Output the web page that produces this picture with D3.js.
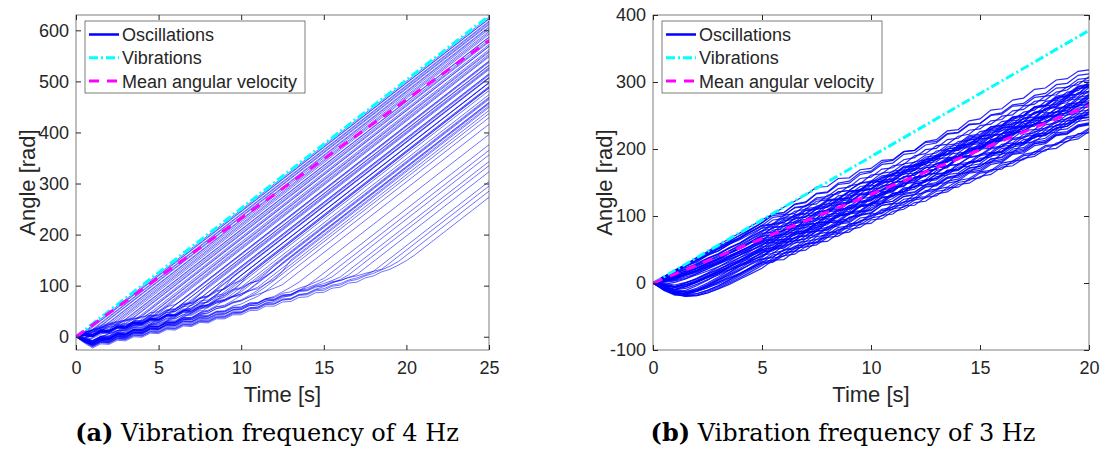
<!DOCTYPE html>
<html>
<head>
<meta charset="utf-8">
<script src="https://cdnjs.cloudflare.com/ajax/libs/d3/7.8.5/d3.min.js"></script>
<style>
  body { margin: 0; background: #fff; }
  svg text { font-family: "Liberation Sans", Arial, sans-serif; fill: #262626; }
  .tick text { font-size: 18px; }
  .caption { font-family: "DejaVu Serif", serif; font-size: 24px; fill: #000; }
</style>
</head>
<body>
<svg id="chart" width="1103" height="452"></svg>
<script>

// sample spacing of the angle traces, seconds
var dt = 0.5;

var legendLabels = ["Oscillations", "Vibrations", "Mean angular velocity"];
var captionTags = ["(a)", "(b)"];
var captionTexts = [" Vibration frequency of 4 Hz", " Vibration frequency of 3 Hz"];

// ---- panel (a), 4 Hz, 0..25 s
var leftTicksX = [0, 5, 10, 15, 20, 25];
var leftTicksY = [0, 100, 200, 300, 400, 500, 600];
var leftVib = [[0, 0], [25, 628.3]];
var leftMean = [[0, 0], [25, 580]];

// angle every 0.5 s until the trace locks onto the vibration
var leftPre = [
  [0,10], [0,6], [0,2],
  [0,9,20], [0,4,13], [0,-3,8],
  [0,8,14,22], [0,3,9,16], [0,-4,2,11],
  [0,9,13,21,27], [0,5,8,15,20], [0,-6,-2,8,14],
  [0,7,14,18,26,30], [0,2,10,12,19,22], [0,-8,-3,5,11,17],
  [0,8,12,19,24,29,33], [0,3,6,14,17,23,26], [0,-7,-10,-1,6,12,19],
  [0,6,13,17,24,28,33,37], [0,-2,4,10,13,20,24,29], [0,-9,-14,-6,1,8,14,22],
  [0,8,11,17,23,25,32,36,40], [0,-3,2,9,12,18,23,26,31], [0,-10,-16,-9,-2,4,10,18,25],
  [0,5,10,17,20,26,31,34,39,42], [0,-5,-8,0,6,10,17,22,28,35],
  [0,7,4,13,12,21,19,29,28,38,45], [0,-8,-12,-4,-5,5,4,14,13,24,37],
  [0,6,3,12,11,20,18,27,26,35,38,49], [0,-4,-9,-1,-3,6,5,14,13,23,28,41],
  [0,4,2,11,9,18,17,26,25,34,33,44,54], [0,-9,-15,-7,-9,0,-1,9,8,18,19,31,45],
  [0,5,3,12,10,19,18,27,26,35,34,43,49,60], [0,-6,-11,-3,-5,4,3,12,11,20,20,30,38,50],
  [0,2,0,9,8,17,16,25,24,33,32,41,42,52,62], [0,-10,-18,-10,-12,-3,-4,6,5,15,15,25,29,41,55],
  [0,4,2,11,10,19,17,26,25,34,33,42,41,50,57,66], [0,-7,-13,-5,-6,3,2,11,10,19,18,27,28,38,47,58],
  [0,6,4,12,11,20,19,28,26,35,34,43,42,51,53,61,70], [0,-3,-8,0,-1,8,6,15,14,23,22,31,31,40,44,53,63],
  [0,-9,-16,-8,-9,0,-1,8,7,16,15,24,25,34,37,47,58,72],
  [0,5,3,12,11,20,18,27,26,35,34,43,42,51,50,59,62,71,80],
  [0,-5,-11,-3,-4,5,4,13,12,21,20,29,28,37,38,47,52,61,72],
  [0,2,0,9,8,17,16,25,23,32,31,40,39,48,47,56,59,66,72,79],
  [0,7,5,13,12,21,20,29,27,36,35,44,43,52,51,60,62,70,73,80,88],
  [0,-6,-12,-4,-5,4,3,12,11,20,19,28,27,36,37,46,50,58,62,71,81],
  [0,3,1,10,9,18,16,25,24,33,32,41,40,49,48,57,60,68,71,78,84,92],
  [0,6,4,13,11,20,19,28,27,36,34,43,42,51,50,59,61,69,72,79,84,90,97],
  [0,-8,-15,-7,-8,1,0,9,8,17,16,25,24,33,34,43,47,55,59,67,72,81,91],
  [0,6,4,14,14,24,25,35,37,47,49,59,63,73,85],
  [0,-4,-8,1,2,12,13,23,25,35,37,47,50,60,68,83,100],
  [0,5,3,12,11,21,21,31,31,41,42,52,53,63,65,75,80,94,110],
  [0,-6,-11,-2,-2,8,8,18,19,29,30,40,42,52,54,64,68,80,97,118],
  [0,2,0,9,9,19,19,29,30,40,41,51,53,63,65,75,78,88,93,105,120],
  [0,-8,-14,-5,-5,5,5,15,16,26,27,37,38,48,50,60,63,73,77,89,105,125],
  [0,4,2,11,11,21,21,31,32,42,43,53,55,65,67,77,80,90,94,104,110,122,135],
  [0,-3,-8,1,1,11,11,21,22,32,33,43,44,54,56,66,68,78,81,91,94,104,110,123,140],
  [0,3,1,10,10,19,19,28,29,38,39,48,50,59,61,70,72,81,84,93,96,105,109,119,130,145],
  [0,-7,-13,-4,-4,5,5,14,15,24,25,34,35,44,46,55,57,66,69,78,81,90,94,104,112,128,150],
  [0,-4,-10,-2,-3,6,5,14,12,21,20,29,28,37,36,45,46,55,58,66,70,78,87,98],
  [0,-9,-17,-9,-10,-1,-2,7,6,15,14,23,22,31,30,39,40,49,51,60,64,72,79,90,102],
  [0,3,1,9,8,16,14,22,21,29,28,36,35,43,42,51,50,59,60,68,71,78,83,89,95,102],
  [0,-6,-13,-5,-6,2,1,9,8,16,15,23,22,30,29,37,36,44,45,53,55,63,66,74,79,88,97,107],
  [0,-10,-19,-11,-12,-4,-5,3,2,10,9,17,16,24,23,31,30,38,39,47,48,56,58,66,69,77,81,90,100,112],
  [0,-3,-9,-1,-2,6,5,13,12,20,19,27,26,34,33,41,40,48,49,57,58,66,67,75,77,85,88,95,100,107,114],
  [0,-7,-14,-6,-7,1,0,8,7,15,14,22,21,29,28,36,35,43,44,52,53,61,62,70,72,80,83,91,96,102,109,117],
  [0,2,0,7,6,13,12,19,18,25,24,31,30,37,36,43,42,50,50,58,58,66,66,74,74,82,83,91,93,100,104,110,117],
  [0,-11,-20,-12,-13,-5,-6,2,1,9,8,16,15,23,22,30,29,37,37,45,46,54,55,63,64,72,74,82,85,93,98,105,112,121],
  [0,-5,-12,-4,-5,3,2,10,9,17,16,24,23,31,30,38,37,45,45,53,53,61,62,70,71,79,80,88,90,97,100,106,110,116,122],
  [0,-8,-16,-8,-9,-1,-2,6,5,13,12,20,19,27,26,34,33,41,41,49,49,57,58,66,66,74,75,83,84,92,94,101,104,111,115,121,128],
  [0,-2,-7,1,0,8,7,15,14,21,20,27,26,34,33,41,40,48,48,56,56,64,65,73,73,81,82,90,91,99,100,108,110,116,119,124,128,132],
  [0,-9,-18,-10,-11,-3,-4,4,3,11,10,18,17,25,24,32,31,39,39,47,47,55,56,64,64,72,73,81,82,90,91,99,101,109,112,119,124,131,138,147],
  [0,-12,-22,-14,-15,-7,-8,0,-1,7,6,14,13,21,20,28,27,35,35,43,43,51,52,60,60,68,69,77,78,86,87,95,97,105,107,115,119,127,132,140,149,160]
];

// angle of each trace at t = 25 s
var leftEnd = [
  626, 622, 618, 623, 616, 611, 613, 607, 602, 605, 598, 592,
  595, 587, 582, 586, 579, 572, 577, 569, 562, 568, 559, 553,
  557, 550, 548, 540, 539, 531, 532, 523, 525, 515, 514, 507,
  506, 498, 497, 490, 487, 482, 474, 469, 465, 458, 456, 449, 443,
  537, 527, 512, 508, 497, 489, 487, 467, 459, 452,
  437, 429, 416, 396, 376, 365, 356, 343, 335, 323, 304, 295, 285, 273
];

// ---- panel (b), 3 Hz, 0..20 s
var rightTicksX = [0, 5, 10, 15, 20];
var rightTicksY = [-100, 0, 100, 200, 300, 400];
var rightVib = [[0, 0], [20, 377]];
var rightMean = [[0, 0], [20, 265]];

// angle every 0.5 s
var rightRuns = [
  [0,10,17,27,34,44,51,61,68,80,90,103,105,117,120,133,135,147,149,162,165,177,179,192,194,206,209,222,224,236,238,251,254,266,268,280,283,296,298,310,312],
  [0,8,15,25,31,41,48,58,66,77,86,88,101,104,116,118,131,133,145,148,161,163,175,177,190,193,205,207,219,222,235,237,249,251,264,267,279,281,293,296,308],
  [0,6,14,21,29,37,44,53,60,71,82,94,96,107,110,122,124,136,138,149,152,164,166,178,180,191,194,206,208,220,222,233,236,248,250,262,264,275,278,290,292],
  [0,9,14,23,28,37,43,52,59,69,78,81,93,95,108,110,122,125,137,139,152,155,167,169,181,184,197,199,211,213,226,229,241,243,255,258,271,273,285,287,300],
  [0,5,12,18,26,33,41,48,57,66,76,87,90,102,104,115,118,130,132,144,146,157,160,172,174,185,188,200,202,214,216,227,230,242,244,255,258,270,272,284,286],
  [0,7,11,19,24,33,39,48,55,65,74,76,88,91,103,105,118,120,132,139,146,158,161,174,176,188,190,203,206,218,220,233,235,247,250,263,265,277,279,292,295],
  [0,4,9,15,21,29,36,45,53,62,72,83,85,97,99,110,113,124,126,138,140,151,153,165,168,179,181,192,194,206,208,219,222,233,235,247,249,260,262,274,276],
  [0,2,6,13,19,28,35,44,52,61,70,72,85,88,100,102,115,117,130,133,145,147,160,162,174,177,190,192,205,207,219,222,235,237,250,252,264,267,280,282,295],
  [0,6,10,17,22,30,36,44,51,60,68,79,81,92,95,105,108,119,121,132,134,145,148,158,161,172,174,185,187,198,201,211,214,225,227,238,240,251,254,264,267],
  [0,-2,1,6,14,21,30,38,47,56,66,69,80,82,94,97,108,110,122,124,136,139,150,152,164,167,178,180,192,194,206,209,220,222,234,237,248,250,262,264,276],
  [0,5,8,14,19,26,33,40,48,55,64,76,78,89,91,103,106,117,119,131,133,144,147,159,161,172,174,186,189,200,202,214,216,227,230,242,244,255,257,269,272],
  [0,-5,-6,0,7,15,24,33,42,52,62,64,76,79,91,93,106,108,120,123,135,137,150,152,164,167,179,181,194,196,208,211,223,225,238,240,252,255,267,269,282],
  [0,3,8,12,18,24,31,38,45,52,60,70,73,84,86,96,99,110,112,122,125,135,138,149,151,161,164,175,177,187,190,200,203,214,216,226,229,240,242,252,255],
  [0,-7,-10,-6,2,10,19,29,38,48,58,61,72,74,86,89,100,107,114,126,128,139,142,154,156,167,170,182,184,195,198,210,212,223,226,238,240,251,254,266,268],
  [0,2,4,9,14,21,28,35,42,49,56,67,69,80,83,94,96,108,110,121,123,134,137,148,150,162,164,175,177,188,191,202,204,216,218,229,231,242,245,256,258],
  [0,-9,-14,-11,-4,4,14,24,34,44,54,56,69,71,83,86,99,101,113,115,128,131,143,145,158,160,172,175,188,190,202,204,217,220,232,234,247,249,261,264,277],
  [0,1,3,7,12,18,24,31,38,45,52,62,65,75,78,89,91,101,104,114,117,128,130,140,143,153,156,167,169,179,182,192,195,206,208,218,221,231,234,245,247],
  [0,-8,-13,-13,-8,0,9,19,29,40,50,53,64,66,78,81,92,94,106,108,120,123,134,136,148,151,162,164,176,178,190,193,204,206,218,221,232,234,246,248,260],
  [0,-1,-3,1,6,13,20,27,34,41,48,60,62,73,75,86,89,100,102,114,116,127,129,140,143,154,156,168,170,181,183,194,197,208,210,222,224,235,237,248,251],
  [0,-10,-17,-15,-10,-2,7,16,26,36,46,48,60,63,75,77,90,92,104,107,119,121,134,136,148,151,163,165,178,180,192,195,207,209,222,224,236,239,251,253,266],
  [0,-4,-6,-2,4,11,17,24,31,37,44,54,57,68,70,80,83,93,96,107,109,119,122,132,135,146,148,158,161,171,174,185,187,197,200,210,213,224,226,236,239],
  [0,-9,-15,-17,-12,-5,3,13,22,32,42,44,56,59,70,72,84,87,98,100,112,119,126,137,140,152,154,165,168,180,182,193,196,208,210,221,224,236,238,249,252],
  [0,-3,-7,-5,1,8,15,22,28,34,40,51,53,63,66,77,79,90,92,102,105,116,119,129,132,143,145,156,158,168,171,182,184,195,198,208,211,222,224,234,237],
  [0,-7,-14,-16,-13,-7,1,10,19,29,38,50,52,63,66,78,80,91,94,106,108,119,122,134,136,147,150,162,164,175,178,190,192,203,206,218,220,231,234,246,248],
  [0,-2,-5,-3,2,8,14,20,26,31,36,39,49,51,62,65,75,78,88,90,101,104,114,117,127,129,140,143,153,156,166,168,179,182,192,195,205,207,218,221,231],
  [0,-6,-12,-17,-16,-11,-4,5,14,24,34,45,48,60,62,73,76,88,90,101,104,116,118,129,132,144,146,157,160,172,174,185,188,200,202,213,216,228,230,241,244],
  [0,-10,-16,-19,-16,-11,-4,4,13,22,32,34,45,48,58,60,71,74,85,87,97,100,111,113,124,127,137,139,150,153,164,166,176,179,190,192,203,206,216,218,229],
  [0,-5,-11,-14,-12,-7,-1,7,14,22,30,42,44,55,57,69,72,83,85,97,99,110,113,125,127,138,140,152,155,166,168,180,182,193,196,208,210,221,223,235,238],
  [0,-9,-17,-20,-18,-13,-6,2,11,20,28,31,41,43,54,57,68,70,80,83,94,96,107,110,120,122,133,136,147,149,159,162,173,175,186,189,199,201,212,215,226],
  [0,-7,-13,-18,-19,-15,-8,0,8,17,26,37,40,52,54,65,68,80,82,93,96,108,110,121,124,136,138,149,152,164,166,177,180,192,194,205,208,220,222,233,236],
  [0,9,19,27,37,45,55,62,72,80,90,101,102,112,114,125,126,136,138,149,150,160,162,173,174,184,186,197,198,208,210,221,222,232,234,245,246,256,258,269,270],
  [0,8,18,25,34,42,51,59,68,76,85,87,98,99,111,113,124,126,137,138,150,152,163,165,176,177,189,191,202,204,215,216,228,230,241,243,254,255,267,269,280],
  [0,-6,-10,-8,-2,5,12,19,26,33,40,52,55,68,71,83,87,100,103,115,119,132,136,150,153,166,170,184,188,201,205,219,223,237,240,254,258,272,276,290,294],
  [0,-8,-15,-15,-10,-3,5,12,20,28,35,38,50,53,66,70,82,85,98,102,115,119,133,136,150,154,168,172,186,190,204,208,223,227,241,245,260,264,278,282,297],
  [0,7,13,21,27,36,43,52,60,69,78,89,90,101,103,113,115,126,127,138,140,150,152,163,164,175,177,187,189,200,201,212,214,224,226,237,238,249,251,261,263],
  [0,4,10,15,22,28,35,41,48,55,62,75,78,90,93,106,109,122,124,137,140,153,156,168,171,184,187,200,203,216,218,231,234,247,250,263,266,279,282,294,297],
  [0,-3,-5,0,6,14,21,28,35,43,50,53,65,67,80,83,95,98,111,113,126,129,141,144,157,159,172,175,187,190,203,205,218,221,233,236,249,251,264,267,279],
  [0,-11,-18,-18,-12,-4,5,15,25,35,45,58,60,73,76,89,92,104,107,120,123,136,139,152,154,167,170,183,186,198,201,214,217,230,233,246,248,261,264,277,280],
  [0,10,16,26,32,42,48,58,65,74,82,84,95,98,109,111,123,125,136,139,150,152,164,166,177,180,191,193,205,207,218,221,232,234,246,248,259,262,273,275,287],
  [0,3,5,11,16,23,29,36,42,49,56,69,72,85,88,101,104,117,120,133,136,149,152,165,168,181,184,197,200,213,216,229,232,245,248,261,264,277,280,293,296],
  [0,9,19,28,38,47,57,66,75,85,94,103,113,122,131,143,144,156,157,169,171,183,184,196,198,210,211,223,225,237,238,250,252,264,265,277,279,291,292,304,306],
  [0,9,17,27,35,45,53,63,71,81,90,103,105,118,121,134,136,149,152,165,167,180,183,196,198,211,214,227,229,242,245,258,260,273,276,289,291,303,305,316,318],
  [0,-9,-16,-20,-19,-15,-9,-2,6,14,22,34,35,47,49,61,62,74,76,88,89,101,103,115,116,128,130,142,143,155,157,169,170,182,184,196,197,209,211,223,224],
  [0,4,6,12,17,24,30,38,45,53,60,61,74,76,88,89,102,104,116,117,130,132,144,145,158,160,172,173,186,188,200,201,214,216,228,229,242,244,256,257,270],
  [0,5,9,16,22,30,37,45,53,62,70,83,84,96,98,111,113,125,127,140,141,153,155,168,170,182,184,197,198,210,212,225,227,239,241,254,255,267,269,282,284],
  [0,-6,-9,-5,1,9,17,24,32,40,48,50,62,63,76,78,90,91,103,105,118,119,131,133,145,146,159,161,173,174,186,188,201,202,214,216,228,229,242,244,256],
  [0,8,17,25,34,42,51,60,68,77,86,98,100,113,115,127,129,141,143,156,158,170,172,184,187,199,201,214,216,228,230,242,244,257,259,271,273,285,288,300,302],
  [0,-4,-10,-13,-10,-5,1,8,15,23,30,32,44,47,59,61,74,76,88,91,103,105,118,120,132,135,148,150,163,165,177,180,193,195,208,211,223,225,238,241,254],
  [0,3,7,13,18,26,32,40,47,56,64,65,79,81,94,96,110,111,124,126,140,142,155,156,170,172,185,187,201,202,215,217,231,233,246,247,261,263,276,278,292],
  [0,-2,-6,-3,3,10,17,25,33,42,52,64,65,76,78,90,91,102,104,116,117,128,130,142,143,154,156,168,169,180,182,194,195,206,208,220,221,232,234,246,247]
];


var svg = d3.select("#chart");

var toPoints = function(vals) {
  return vals.map(function(v, k) { return [k * dt, v]; });
};

var leftRuns = leftPre.map(function(pre, i) {
  return toPoints(pre).concat([[25, leftEnd[i]]]);
});

var drawPanel = function(svg, p) {
  var x = d3.scaleLinear().domain(p.xDomain).range([p.left, p.right]);
  var y = d3.scaleLinear().domain(p.yDomain).range([p.bottom, p.top]);
  var line = d3.line()
    .x(function(d) { return x(d[0]); })
    .y(function(d) { return y(d[1]); });

  var g = svg.append("g");

  g.append("clipPath").attr("id", "clip-" + p.id)
    .append("rect")
      .attr("x", p.left).attr("y", p.top)
      .attr("width", p.right - p.left).attr("height", p.bottom - p.top);

  var plot = g.append("g").attr("clip-path", "url(#clip-" + p.id + ")");

  plot.selectAll("path.osc")
      .data(p.runs)
    .enter().append("path")
      .attr("class", "osc")
      .attr("d", line)
      .attr("fill", "none")
      .attr("stroke", "#0000ff")
      .attr("stroke-width", p.oscWidth)
      .attr("stroke-opacity", p.oscOpacity);

  plot.append("path")
      .attr("d", line(p.vib))
      .attr("fill", "none")
      .attr("stroke", "#00ffff")
      .attr("stroke-width", 3)
      .attr("stroke-dasharray", "9,3,2,3");

  plot.append("path")
      .attr("d", line(p.mean))
      .attr("fill", "none")
      .attr("stroke", "#ff00ff")
      .attr("stroke-width", 3)
      .attr("stroke-dasharray", "10,8");

  // axes, ticks pointing inward as in matlab
  var clean = function(sel) {
    sel.attr("font-size", null).attr("font-family", null).attr("color", "#262626");
    sel.select(".domain").remove();
  };
  var plain = function(d) { return String(d); };

  g.append("g")
      .attr("transform", "translate(0," + p.bottom + ")")
      .call(d3.axisBottom(x).tickValues(p.xTicks).tickSize(-5).tickPadding(11).tickFormat(plain))
      .call(clean);
  g.append("g")
      .attr("transform", "translate(0," + p.top + ")")
      .call(d3.axisTop(x).tickValues(p.xTicks).tickSize(-5).tickFormat(""))
      .call(clean);
  g.append("g")
      .attr("transform", "translate(" + p.left + ",0)")
      .call(d3.axisLeft(y).tickValues(p.yTicks).tickSize(-5).tickPadding(7).tickFormat(plain))
      .call(clean);
  g.append("g")
      .attr("transform", "translate(" + p.right + ",0)")
      .call(d3.axisRight(y).tickValues(p.yTicks).tickSize(-5).tickFormat(""))
      .call(clean);

  g.append("rect")
      .attr("x", p.left).attr("y", p.top)
      .attr("width", p.right - p.left).attr("height", p.bottom - p.top)
      .attr("fill", "none")
      .attr("stroke", "#262626")
      .attr("stroke-width", 0.6);

  g.append("text")
      .attr("x", (p.left + p.right) / 2).attr("y", 402)
      .attr("text-anchor", "middle")
      .attr("font-size", 22)
      .text("Time [s]");

  g.append("text")
      .attr("transform", "translate(" + (p.left - 41) + "," + ((p.top + p.bottom) / 2) + ") rotate(-90)")
      .attr("text-anchor", "middle")
      .attr("font-size", 22)
      .text("Angle [rad]");

  // legend
  var lx = p.left + 9, ly = 21;
  var lg = g.append("g");
  lg.append("rect")
      .attr("x", lx).attr("y", ly)
      .attr("width", 220).attr("height", 72)
      .attr("fill", "#fff")
      .attr("stroke", "#262626")
      .attr("stroke-width", 0.6);
  var styles = [
    { c: "#0000ff", w: 2.5, d: null },
    { c: "#00ffff", w: 3, d: "9,3,2,3" },
    { c: "#ff00ff", w: 3, d: "10,8" }
  ];
  legendLabels.forEach(function(lab, i) {
    var cy = ly + 13.5 + i * 23.3;
    lg.append("line")
        .attr("x1", lx + 4).attr("x2", lx + 34)
        .attr("y1", cy).attr("y2", cy)
        .attr("stroke", styles[i].c)
        .attr("stroke-width", styles[i].w)
        .attr("stroke-dasharray", styles[i].d);
    lg.append("text")
        .attr("x", lx + 37).attr("y", cy + 6.4)
        .attr("font-size", 18)
        .text(lab);
  });

  var cap = g.append("text")
      .attr("class", "caption")
      .attr("x", p.capX).attr("y", 441)
      .attr("text-anchor", "middle");
  cap.append("tspan").attr("font-weight", "bold").text(captionTags[p.idx]);
  cap.append("tspan").text(captionTexts[p.idx]);
};

drawPanel(svg, {
  id: "a", idx: 0,
  left: 76, right: 489, top: 15, bottom: 350,
  xDomain: [0, 25], yDomain: [-26, 630],
  xTicks: leftTicksX, yTicks: leftTicksY,
  runs: leftRuns, vib: leftVib, mean: leftMean,
  oscWidth: 0.8, oscOpacity: 0.7,
  capX: 267
});

drawPanel(svg, {
  id: "b", idx: 1,
  left: 653, right: 1089, top: 15, bottom: 350,
  xDomain: [0, 20], yDomain: [-100, 400],
  xTicks: rightTicksX, yTicks: rightTicksY,
  runs: rightRuns.map(toPoints), vib: rightVib, mean: rightMean,
  oscWidth: 1.2, oscOpacity: 0.85,
  capX: 843
});

</script>
</body>
</html>
